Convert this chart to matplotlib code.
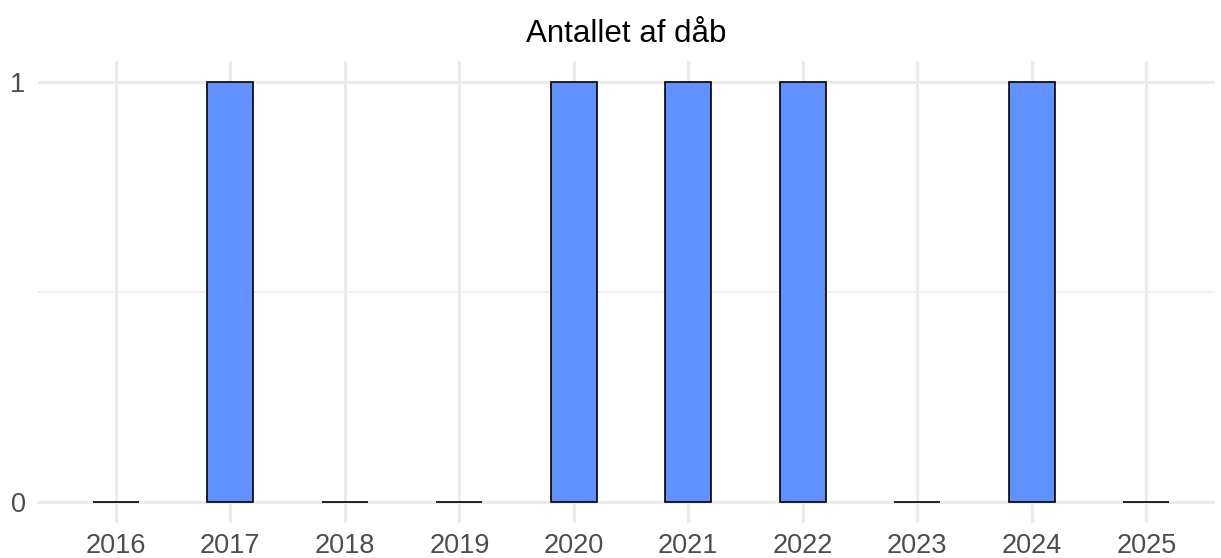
import numpy as np
import matplotlib.pyplot as plt

plt.rcParams['font.family'] = ['Liberation Sans', 'DejaVu Sans']

years = ['2016', '2017', '2018', '2019', '2020', '2021', '2022', '2023', '2024', '2025']
counts = [0, 1, 0, 0, 1, 1, 1, 0, 1, 0]

fig = plt.figure(figsize=(12.21, 5.58), dpi=100)
ax = fig.add_axes([38 / 1221, 1 - 523 / 558, (1215 - 38) / 1221, (523 - 61) / 558])

x = np.arange(len(years))
ax.bar(x, counts, width=0.4, color='#6190ff', edgecolor='black', linewidth=1.2, zorder=3)

ax.set_xlim(-0.68, len(years) - 1 + 0.6)
ax.set_ylim(-0.05, 1.05)
ax.set_xticks(x)
ax.set_xticklabels(years)
ax.set_yticks([0, 1])
ax.set_yticks([0.5], minor=True)
ax.grid(True, which='major', color='#ebebeb', linewidth=2.2, zorder=0)
ax.grid(True, which='minor', axis='y', color='#ebebeb', linewidth=1.1, zorder=0)
for s in ax.spines.values():
    s.set_visible(False)
ax.tick_params(which='both', length=0, labelsize=19.5, labelcolor='#4d4d4d', pad=7)
ax.tick_params(axis='y', pad=9)
ax.set_title('Antallet af dåb', fontsize=22.5, pad=14)

fig.savefig('out.png')
